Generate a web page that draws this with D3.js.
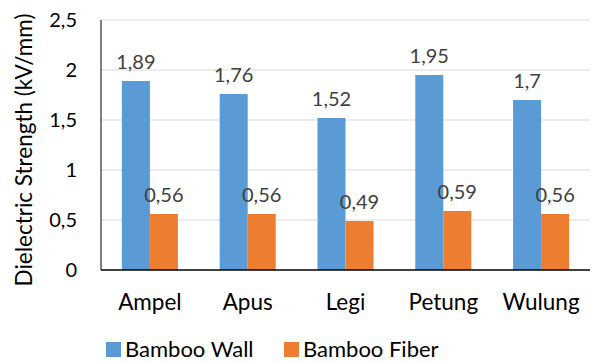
<!DOCTYPE html>
<html>
<head>
<meta charset="utf-8">
<script src="https://cdn.jsdelivr.net/npm/d3@7"></script>
<style>
  body { margin: 0; background: #fff; }
  text { font-family: Lato, "Open Sans", sans-serif; }
</style>
</head>
<body>
<script>
var w = 592;
var h = 363;

// chart data
var categories = ["Ampel", "Apus", "Legi", "Petung", "Wulung"];
var seriesNames = ["Bamboo Wall", "Bamboo Fiber"];
var bambooWall = [1.89, 1.76, 1.52, 1.95, 1.7];
var bambooFiber = [0.56, 0.56, 0.49, 0.59, 0.56];
var yTicks = [0, 0.5, 1, 1.5, 2, 2.5];
var colors = ["#5B9BD5", "#ED7D31"];

var margin = {left: 101, right: 2, top: 20, bottom: 93};

var svg = d3.select("body").append("svg")
    .attr("width", w)
    .attr("height", h);

var x0 = d3.scaleBand()
    .domain(categories)
    .range([margin.left, w - margin.right])
    .paddingInner(0.427)
    .paddingOuter(0.2135);

var x1 = d3.scaleBand()
    .domain(seriesNames)
    .range([0, x0.bandwidth()]);

var y = d3.scaleLinear()
    .domain([0, 2.5])
    .range([h - margin.bottom, margin.top]);

var fmt = function(v) { return String(v).replace(".", ","); };

// gridlines
svg.append("g")
    .selectAll("line")
    .data(yTicks.slice(1))
    .enter().append("line")
    .attr("x1", margin.left)
    .attr("x2", w - margin.right)
    .attr("y1", function(d) { return y(d); })
    .attr("y2", function(d) { return y(d); })
    .attr("stroke", "#D9D9D9")
    .attr("stroke-width", 1);

// y tick labels
svg.append("g")
    .selectAll("text")
    .data(yTicks)
    .enter().append("text")
    .attr("x", 77)
    .attr("y", function(d) { return y(d); })
    .attr("dy", "0.35em")
    .attr("text-anchor", "end")
    .attr("font-size", "20px")
    .attr("fill", "#000")
    .text(fmt);

// bars
var rows = categories.map(function(c, i) {
    return {cat: c, values: [bambooWall[i], bambooFiber[i]]};
});

var groups = svg.append("g")
    .selectAll("g")
    .data(rows)
    .enter().append("g")
    .attr("transform", function(d) { return "translate(" + x0(d.cat) + ",0)"; });

groups.selectAll("rect")
    .data(function(d) { return d.values.map(function(v, j) { return {s: seriesNames[j], v: v, j: j}; }); })
    .enter().append("rect")
    .attr("x", function(d) { return x1(d.s); })
    .attr("y", function(d) { return y(d.v); })
    .attr("width", x1.bandwidth())
    .attr("height", function(d) { return y(0) - y(d.v); })
    .attr("fill", function(d) { return colors[d.j]; });

groups.selectAll("text")
    .data(function(d) { return d.values.map(function(v, j) { return {s: seriesNames[j], v: v}; }); })
    .enter().append("text")
    .attr("x", function(d) { return x1(d.s) + x1.bandwidth() / 2; })
    .attr("y", function(d) { return y(d.v) - 12; })
    .attr("text-anchor", "middle")
    .attr("font-size", "20px")
    .attr("fill", "#404040")
    .text(function(d) { return fmt(d.v); });

// axis lines
svg.append("line")
    .attr("x1", margin.left).attr("x2", margin.left)
    .attr("y1", y(2.5)).attr("y2", y(0))
    .attr("stroke", "#000").attr("stroke-width", 1);

svg.append("line")
    .attr("x1", margin.left).attr("x2", w - margin.right)
    .attr("y1", y(0)).attr("y2", y(0))
    .attr("stroke", "#000").attr("stroke-width", 1.5);

// x labels
svg.append("g")
    .selectAll("text")
    .data(categories)
    .enter().append("text")
    .attr("x", function(d) { return x0(d) + x0.bandwidth() / 2; })
    .attr("y", 310)
    .attr("text-anchor", "middle")
    .attr("font-size", "22.5px")
    .attr("fill", "#000")
    .text(function(d) { return d; });

// y title
svg.append("text")
    .attr("transform", "translate(32," + 150 + ") rotate(-90)")
    .attr("text-anchor", "middle")
    .attr("font-size", "22.5px")
    .attr("fill", "#000")
    .text("Dielectric Strength (kV/mm)");

// legend
var legendX = [106, 284];
var legend = svg.append("g")
    .selectAll("g")
    .data(seriesNames)
    .enter().append("g")
    .attr("transform", function(d, i) { return "translate(" + legendX[i] + ",342)"; });

legend.append("rect")
    .attr("width", 15).attr("height", 15)
    .attr("fill", function(d, i) { return colors[i]; });

legend.append("text")
    .attr("x", 19)
    .attr("y", 15)
    .attr("font-size", "22px")
    .attr("fill", "#000")
    .text(function(d) { return d; });
</script>
</body>
</html>
